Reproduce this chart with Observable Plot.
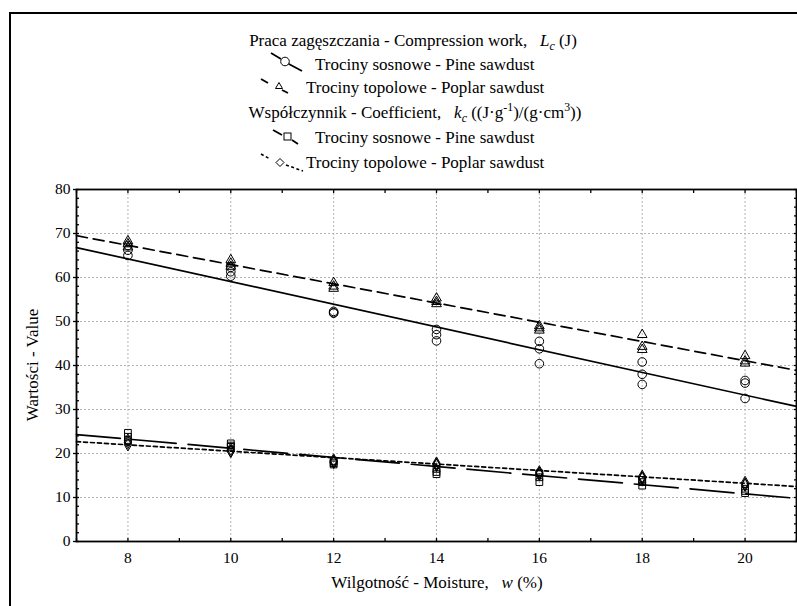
<!DOCTYPE html>
<html><head><meta charset="utf-8">
<script src="https://cdn.jsdelivr.net/npm/d3@7"></script>
<script src="https://cdn.jsdelivr.net/npm/@observablehq/plot@0.6"></script>
<style>
html,body{margin:0;padding:0;background:#fff;overflow:hidden;}
body{width:797px;height:606px;position:relative;font-family:"Liberation Serif","DejaVu Serif",serif;color:#000;}
#frame{position:absolute;left:9px;top:12px;width:820px;height:640px;border-left:2px solid #000;border-top:2px solid #000;}
.t{position:absolute;font-size:17px;line-height:18px;white-space:nowrap;transform:translateY(-50%);}
.c{transform:translate(-50%,-50%);}
.sym{position:absolute;}
#chart{position:absolute;left:0;top:180px;}
#ylab{position:absolute;left:33px;top:365px;transform:translate(-50%,-50%) rotate(-90deg);font-size:17px;white-space:nowrap;}
#xlab{position:absolute;left:437px;top:583px;transform:translate(-50%,-50%);font-size:17px;white-space:nowrap;}
sub,sup{font-size:70%;line-height:0;}
</style>
</head><body>
<div id="frame"></div>
<div class="t c" style="left:413px;top:41px;">Praca zagęszczania - Compression work, &nbsp;&nbsp;<i>L<sub>c</sub></i> (J)</div>
<svg class="sym" style="left:266px;top:50px" width="40" height="26"><path d="M5,3 L15,9 M21,13 L36,21" stroke="#000" stroke-width="1.8" fill="none"/><circle cx="19" cy="11.5" r="4.3" fill="#fff" stroke="#000"/></svg>
<div class="t" style="left:315px;top:65px;">Trociny sosnowe - Pine sawdust</div>
<svg class="sym" style="left:258px;top:76px" width="40" height="26"><path d="M3,3 L10,7 M24,14 L30,17" stroke="#000" stroke-width="1.8" fill="none"/><path d="M21,6.5 L24.5,12.5 L17.5,12.5 Z" fill="#fff" stroke="#000"/></svg>
<div class="t" style="left:306px;top:88px;">Trociny topolowe - Poplar sawdust</div>
<div class="t c" style="left:415px;top:113px;">Współczynnik - Coefficient, &nbsp;&nbsp;<i>k<sub>c</sub></i> ((J·g<sup>-1</sup>)/(g·cm<sup>3</sup>))</div>
<svg class="sym" style="left:269px;top:126px" width="40" height="26"><path d="M4,4 L13,9 M23,14 L29,18" stroke="#000" stroke-width="1.8" fill="none"/><rect x="15" y="7" width="7" height="7" fill="#fff" stroke="#000"/></svg>
<div class="t" style="left:315px;top:138px;">Trociny sosnowe - Pine sawdust</div>
<svg class="sym" style="left:258px;top:150px" width="48" height="26"><path d="M3,4 L12,9 M28,15 L45,21" stroke="#000" stroke-width="1.6" fill="none" stroke-dasharray="3,2.5"/><path d="M22,8.5 L26,12.5 L22,16.5 L18,12.5 Z" fill="#fff" stroke="#000"/></svg>
<div class="t" style="left:306px;top:163px;">Trociny topolowe - Poplar sawdust</div>
<div id="chart"></div>
<div id="ylab">Wartości - Value</div>
<div id="xlab">Wilgotność - Moisture, &nbsp;&nbsp;<i>w</i> (%)</div>
<script>
// Moisture levels (x)
const moisture = [8, 10, 12, 14, 16, 18, 20];
// Compression work Lc (J), three replicates per moisture level
const pineLc = [[65.0, 66.2, 67.3], [60.3, 61.3, 62.3], [51.9, 52.3, 52.0], [48.2, 47.0, 45.6], [45.5, 43.8, 40.4], [40.8, 38.0, 35.7], [36.6, 36.0, 32.5]];
const poplarLc = [[68.3, 67.6, 66.9], [64.0, 63.2, 62.5], [58.8, 58.0, 57.5], [55.3, 54.5, 54.0], [49.0, 48.5, 48.0], [47.0, 44.3, 43.6], [42.2, 41.0, 40.5]];
// Coefficient kc, three replicates per moisture level
const pineKc = [[24.7, 23.8, 23.0], [22.3, 21.8, 21.5], [18.3, 17.8, 17.5], [16.5, 15.8, 15.3], [15.5, 14.6, 13.5], [14.0, 13.5, 12.7], [12.0, 11.5, 11.0]];
const poplarKc = [[23.0, 22.5, 22.0], [21.0, 20.5, 20.6], [18.5, 18.0, 18.2], [17.8, 17.3, 17.5], [15.8, 15.3, 15.5], [14.8, 14.3, 14.5], [13.4, 12.8, 13.0]];
// Fitted line ends, at the x-axis limits
const fitX = [7, 21];
const pineLcFit = [66.8, 30.7];
const poplarLcFit = [69.5, 38.9];
const pineKcFit = [24.3, 9.8];
const poplarKcFit = [22.7, 12.5];
// Ticks
const yTicks = [0, 10, 20, 30, 40, 50, 60, 70, 80];
const yMinor = d3.range(0, 81, 2);
const xTicks = [8, 10, 12, 14, 16, 18, 20];
const xMinor = d3.range(7, 22, 1);

const pts = (arr) => arr.flatMap((reps, i) => reps.map(v => ({x: moisture[i], y: v})));
const fit = (arr) => fitX.map((x, i) => ({x, y: arr[i]}));

const dotOpts = {x: "x", y: "y", stroke: "#000", fill: "none", strokeWidth: 1};
const lineOpts = {x: "x", y: "y", stroke: "#000", strokeWidth: 1.7};

const chart = Plot.plot({
  width: 797, height: 426,
  marginLeft: 76, marginRight: 1, marginTop: 9, marginBottom: 65,
  style: {fontFamily: "'Liberation Serif', 'DejaVu Serif', serif", fontSize: "15.5px", background: "transparent", color: "#000"},
  x: {domain: [7, 21]},
  y: {domain: [0, 80]},
  marks: [
    Plot.gridY(yTicks.filter(d => d > 0 && d < 80), {stroke: "#b4b4b4", strokeOpacity: 1, strokeDasharray: "2,2"}),
    Plot.gridX(xTicks, {stroke: "#b4b4b4", strokeOpacity: 1, strokeDasharray: "2,2"}),
    Plot.line(fit(pineLcFit), lineOpts),
    Plot.line(fit(poplarLcFit), {...lineOpts, strokeDasharray: "11,6"}),
    Plot.line(fit(pineKcFit), {...lineOpts, strokeDasharray: "44,12"}),
    Plot.line(fit(poplarKcFit), {...lineOpts, strokeDasharray: "4,3"}),
    Plot.dot(pts(pineLc), {...dotOpts, symbol: "circle", r: 4.3}),
    Plot.dot(pts(poplarLc), {...dotOpts, symbol: "triangle", r: 3.6}),
    Plot.dot(pts(pineKc), {...dotOpts, symbol: "square", r: 3.8}),
    Plot.dot(pts(poplarKc), {...dotOpts, symbol: "diamond", r: 3.8}),
    Plot.frame({stroke: "#000", strokeWidth: 1.8}),
    Plot.axisY(yTicks, {anchor: "left", tickSize: 3, tickPadding: 3, label: null, strokeWidth: 1.3}),
    Plot.axisY(yMinor, {anchor: "left", tickSize: -3, text: null, label: null, strokeWidth: 1.3}),
    Plot.axisY(yMinor, {anchor: "right", tickSize: -3, text: null, label: null, strokeWidth: 1.3}),
    Plot.axisX(xTicks, {anchor: "bottom", tickSize: 0, tickPadding: 10, label: null}),
    Plot.axisX(xMinor, {anchor: "bottom", tickSize: -3, text: null, label: null, strokeWidth: 1.3}),
    Plot.axisX(xMinor, {anchor: "top", tickSize: -3, text: null, label: null, strokeWidth: 1.3})
  ]
});
document.getElementById("chart").append(chart);
</script>
</body></html>
